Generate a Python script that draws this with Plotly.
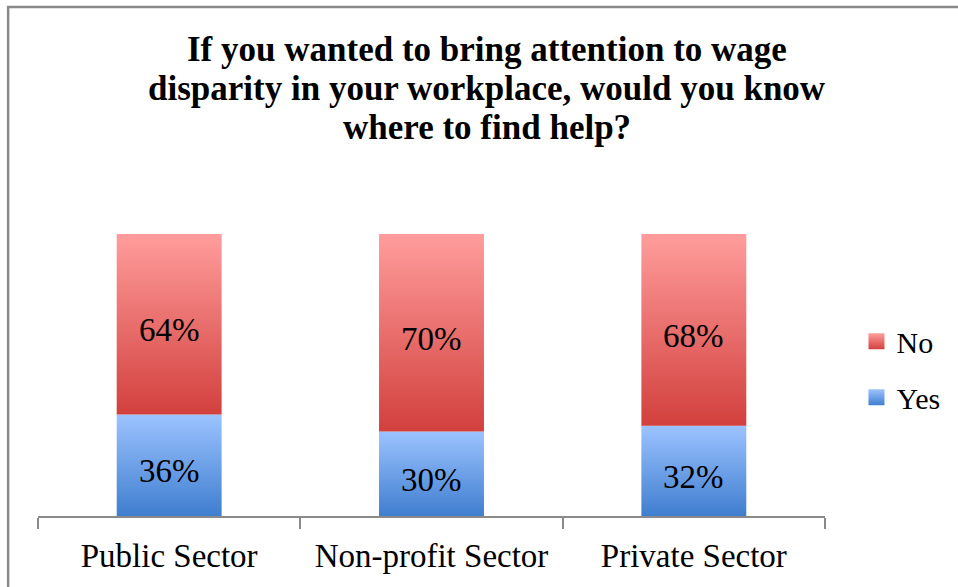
import plotly.graph_objects as go

# Survey data (percent of respondents)
sectors = ["Public Sector", "Non-profit Sector", "Private Sector"]
yes_pct = [36, 30, 32]
no_pct = [64, 70, 68]

title_lines = [
    "If you wanted to bring attention to wage",
    "disparity in your workplace, would you know",
    "where to find help?",
]

series = [
    # name, values, base values, gradient top colour, gradient bottom colour
    ("Yes", yes_pct, [0, 0, 0], "#9CC3FF", "#3F7ECF"),
    ("No", no_pct, yes_pct, "#FF9D9C", "#D2403D"),
]

BAR_W = 0.4
FONT = "Liberation Serif"
GREY = "#8a8a8a"
PLOT_H = 282  # plot area height in px (587 - 234 - 71)
AXIS_Y = 516  # pixel row of the x axis line


def px_to_paper_y(py):
    return (AXIS_Y - py) / PLOT_H


fig = go.Figure()

# Bars drawn as filled rectangles so each segment can carry a vertical gradient
for name, vals, bases, top_c, bot_c in series:
    for i, (v, b) in enumerate(zip(vals, bases)):
        x0, x1 = i - BAR_W / 2, i + BAR_W / 2
        fig.add_trace(go.Scatter(
            x=[x0, x1, x1, x0, x0],
            y=[b, b, b + v, b + v, b],
            mode="lines",
            line=dict(width=0),
            fill="toself",
            fillgradient=dict(type="vertical", colorscale=[[0, bot_c], [1, top_c]]),
            showlegend=False,
            hoverinfo="skip",
        ))
        # value label in the middle of the segment
        fig.add_annotation(x=i, y=b + v / 2, text=f"{v}%", showarrow=False,
                           yshift=-6, font=dict(family=FONT, size=33, color="black"))

# legend entries (No first, then Yes)
for name, vals, bases, top_c, bot_c in reversed(series):
    fig.add_trace(go.Scatter(
        x=[None], y=[None], name=name, mode="markers", legendgroup=name,
        marker=dict(symbol="square", size=17, color=top_c,
                    gradient=dict(type="vertical", color=bot_c)),
    ))

# title, one annotation per line to match the tight line spacing
for k, line in enumerate(title_lines):
    fig.add_annotation(
        xref="paper", yref="paper", x=(489 - 38) / 791, y=px_to_paper_y(50 + 38.5 * k),
        xanchor="center", yanchor="middle", showarrow=False, text=f"<b>{line}</b>",
        font=dict(family=FONT, size=35, color="black"),
    )

fig.update_layout(
    width=958,
    height=587,
    paper_bgcolor="white",
    plot_bgcolor="white",
    margin=dict(l=38, r=129, t=234, b=71),
    legend=dict(
        x=1.04, xanchor="left", y=0.52, yanchor="middle",
        font=dict(family=FONT, size=30, color="black"),
        traceorder="grouped", tracegroupgap=14,
        bgcolor="rgba(0,0,0,0)",
    ),
    xaxis=dict(
        range=[-0.5, 2.5],
        tickvals=list(range(len(sectors))),
        ticktext=sectors,
        ticks="",
        ticklabelstandoff=9,
        tickfont=dict(family=FONT, size=33, color="black"),
        showline=True, linecolor=GREY, linewidth=2,
        showgrid=False, zeroline=False,
        minor=dict(tickvals=[-0.5, 0.5, 1.5, 2.5], ticks="outside",
                   ticklen=11, tickwidth=2, tickcolor=GREY, showgrid=False),
        fixedrange=True,
    ),
    yaxis=dict(range=[0, 100], visible=False, fixedrange=True),
)

# chart frame: only its left and top edges fall inside the picture
fig.add_shape(type="rect", xref="paper", yref="paper", layer="above",
              x0=-30 / 791, x1=1000 / 791, y0=px_to_paper_y(640), y1=px_to_paper_y(7),
              line=dict(color=GREY, width=2.5), fillcolor="rgba(0,0,0,0)")

# remove the browser's default body margin so the figure sits at 0,0
fig.write_html("out.html", config={"displayModeBar": False},
               post_script="document.body.style.margin='0';")
